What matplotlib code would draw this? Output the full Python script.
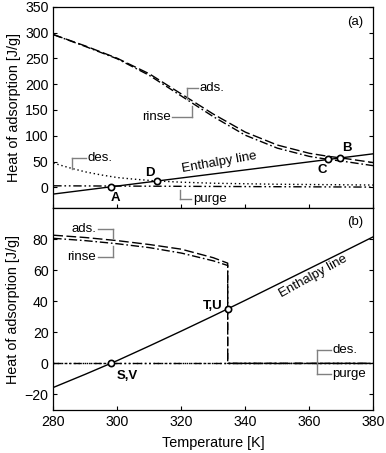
import numpy as np
import matplotlib.pyplot as plt

plt.rcParams['font.family'] = ['Liberation Sans', 'DejaVu Sans']
plt.rcParams['font.size'] = 9.5

# ---- panel (a) data ----
t_a = [280, 290, 300, 310, 320, 330, 340, 350, 360, 366, 370, 380]
ads_a = [296, 274, 250, 220, 181, 142, 107, 82, 66, 60, 57, 48]
rinse_a = [296, 273, 249, 217, 177, 137, 101, 76, 60, 54, 51, 42]
t_des_a = [280, 285, 290, 295, 300, 305, 312, 320, 330, 340, 350, 360, 370, 380]
des_a = [47, 38, 30, 24, 19, 16, 12.5, 10, 8, 7, 6, 5.5, 5, 4.5]
t_purge_a = [280, 380]
purge_a = [3, 0.5]
t_enth_a = [280, 380]
enth_a = [-13, 65]
pts_a_t = [298, 312.3, 366, 369.6]
pts_a_v = [1.0, 12.4, 54.5, 57.3]
pts_a_lab = ['A', 'D', 'C', 'B']

# ---- panel (b) data ----
t_b = [280, 290, 300, 310, 320, 330, 334.5, 334.5, 380]
ads_b = [82.5, 81, 79, 76.5, 73.5, 68, 64.5, 0, 0]
rinse_b = [80.5, 79, 77, 74.5, 71, 66, 63, 0, 0]
t_zero_b = [280, 380]
des_b = [0, 0]
purge_b = [0, 0]
t_enth_b = [280, 290, 300, 310, 320, 330, 340, 350, 360, 370, 380]
enth_b = [-15.5, -7, 1.8, 11.2, 20.8, 30.6, 40.6, 50.8, 61, 71.2, 81.5]
pts_b_t = [298, 334.5]
pts_b_v = [0, 35]

ads_ls = (0, (7, 2.5))
rinse_ls = (0, (6, 2, 1.2, 2))
des_ls = (0, (1, 2))
purge_ls = (0, (6, 2, 1.2, 2, 1.2, 2))
lead = '#808080'

fig = plt.figure(figsize=(3.86, 4.53), dpi=100)
W, H = 386, 453
L, R = 53.3 / W, 373.3 / W
ax1 = fig.add_axes([L, 1 - 208 / H, R - L, (208 - 6.7) / H])
ax2 = fig.add_axes([L, 1 - 410 / H, R - L, (410 - 208) / H])

for ax in (ax1, ax2):
    ax.set_xlim(280, 380)
    ax.set_xticks([280, 300, 320, 340, 360, 380])
    ax.tick_params(direction='in', length=3, width=0.8, right=True, labelsize=10.2)
    for s in ax.spines.values():
        s.set_linewidth(0.9)
    ax.set_ylabel('Heat of adsorption [J/g]', fontsize=10.4, labelpad=3)

# panel (a)
ax1.set_ylim(-40, 350)
ax1.set_yticks(range(0, 351, 50))
ax1.set_xticklabels([])
ax1.plot(t_a, ads_a, color='black', lw=1, ls=ads_ls)
ax1.plot(t_a, rinse_a, color='black', lw=1, ls=rinse_ls)
ax1.plot(t_des_a, des_a, color='black', lw=1, ls=des_ls)
ax1.plot(t_purge_a, purge_a, color='black', lw=1, ls=purge_ls)
ax1.plot(t_enth_a, enth_a, color='black', lw=1)
ax1.plot(pts_a_t, pts_a_v, 'o', ms=4.5, mfc='white', mec='black', mew=1.2)

ax1.plot([321.7, 325.2], [192, 192], color=lead, lw=1)
ax1.plot([321.7, 321.7], [192, 172], color=lead, lw=1)
ax1.text(325.8, 192, 'ads.', va='center', ha='left')
ax1.plot([317.2, 323.2], [135.5, 135.5], color=lead, lw=1)
ax1.plot([323.2, 323.2], [135.5, 157], color=lead, lw=1)
ax1.text(316.6, 135.5, 'rinse', va='center', ha='right')
ax1.plot([285.9, 290.2], [56, 56], color=lead, lw=1)
ax1.plot([285.9, 285.9], [56, 36], color=lead, lw=1)
ax1.text(290.7, 56, 'des.', va='center', ha='left')
ax1.plot([319.6, 323.0], [-22, -22], color=lead, lw=1)
ax1.plot([319.6, 319.6], [-22, -4.5], color=lead, lw=1)
ax1.text(323.6, -22, 'purge', va='center', ha='left')
ax1.text(332, 49, 'Enthalpy line', rotation=10, ha='center', va='center')
ax1.text(0.943, 0.924, '(a)', transform=ax1.transAxes, ha='center', va='center')
for lab, x, y in zip(pts_a_lab, [299.3, 310.2, 364.2, 371.7], [-20, 28.6, 34, 77]):
    ax1.text(x, y, lab, ha='center', va='center', fontweight='bold')

# panel (b)
ax2.set_ylim(-30, 100)
ax2.set_yticks(range(-20, 81, 20))
ax2.plot(t_b, ads_b, color='black', lw=1, ls=ads_ls)
ax2.plot(t_b, rinse_b, color='black', lw=1, ls=rinse_ls)
ax2.plot(t_zero_b, des_b, color='black', lw=1, ls=des_ls)
ax2.plot(t_zero_b, purge_b, color='black', lw=1, ls=purge_ls)
ax2.plot(t_enth_b, enth_b, color='black', lw=1)
ax2.plot(pts_b_t, pts_b_v, 'o', ms=4.5, mfc='white', mec='black', mew=1.2)

ax2.plot([294, 298.75], [86.8, 86.8], color=lead, lw=1)
ax2.plot([298.75, 298.75], [86.8, 80.5], color=lead, lw=1)
ax2.text(293.4, 86.8, 'ads.', va='center', ha='right')
ax2.plot([294, 298.75], [68.5, 68.5], color=lead, lw=1)
ax2.plot([298.75, 298.75], [68.5, 75.5], color=lead, lw=1)
ax2.text(293.4, 68.5, 'rinse', va='center', ha='right')
ax2.plot([362.3, 362.3], [8.3, -7], color=lead, lw=1)
ax2.plot([362.3, 366.8], [8.3, 8.3], color=lead, lw=1)
ax2.plot([362.3, 366.8], [-7, -7], color=lead, lw=1)
ax2.text(367.2, 8.3, 'des.', va='center', ha='left')
ax2.text(367.2, -7, 'purge', va='center', ha='left')
ax2.text(361.2, 55.7, 'Enthalpy line', rotation=29, ha='center', va='center')
ax2.text(0.943, 0.93, '(b)', transform=ax2.transAxes, ha='center', va='center')
ax2.text(303, -8.3, 'S,V', ha='center', va='center', fontweight='bold')
ax2.text(332.8, 37, 'T,U', ha='right', va='center', fontweight='bold')
ax2.set_xlabel('Temperature [K]', fontsize=10.4, labelpad=5)

fig.savefig('out.png', dpi=100)
